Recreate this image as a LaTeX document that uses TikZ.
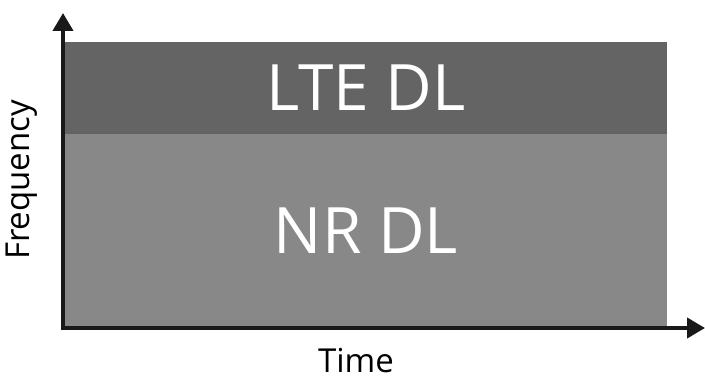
\documentclass[tikz,border=0pt]{standalone}
\usepackage{fontspec}
\setmainfont{Open Sans}
\usetikzlibrary{arrows.meta,positioning}
\definecolor{ltegray}{RGB}{100,100,100}
\definecolor{nrgray}{RGB}{136,136,136}
\tikzstyle{band} = [rectangle, inner sep=0pt, text=white, minimum width=602pt,
    font=\fontsize{64}{64}\selectfont]
\tikzstyle{axis} = [line width=4pt, -{Triangle[width=20pt,length=18pt]}, draw=black!90]

\begin{document}
\begin{tikzpicture}[x=1pt,y=1pt]
  \useasboundingbox (0,0) rectangle (705,381);

  \node[band,fill=nrgray,minimum height=194pt]  (nr)  at (366,150) {NR DL};
  \node[band,fill=ltegray,minimum height=92pt]  (lte) [above=0pt of nr] {LTE DL};

  \coordinate (o) at (63,53);
  \coordinate (ytip) at (63,368);
  \coordinate (xtip) at (705,53);
  \draw[axis] ([yshift=-2pt]o) -- (ytip);
  \draw[axis] ([xshift=-2pt]o) -- (xtip);

  \node[font=\fontsize{33}{33}\selectfont, rotate=90] (freq) at (22,201) {Frequency};
  \node[font=\fontsize{33}{33}\selectfont, inner sep=1pt, anchor=base] (time) at (356,9) {Time};
\end{tikzpicture}
\end{document}
